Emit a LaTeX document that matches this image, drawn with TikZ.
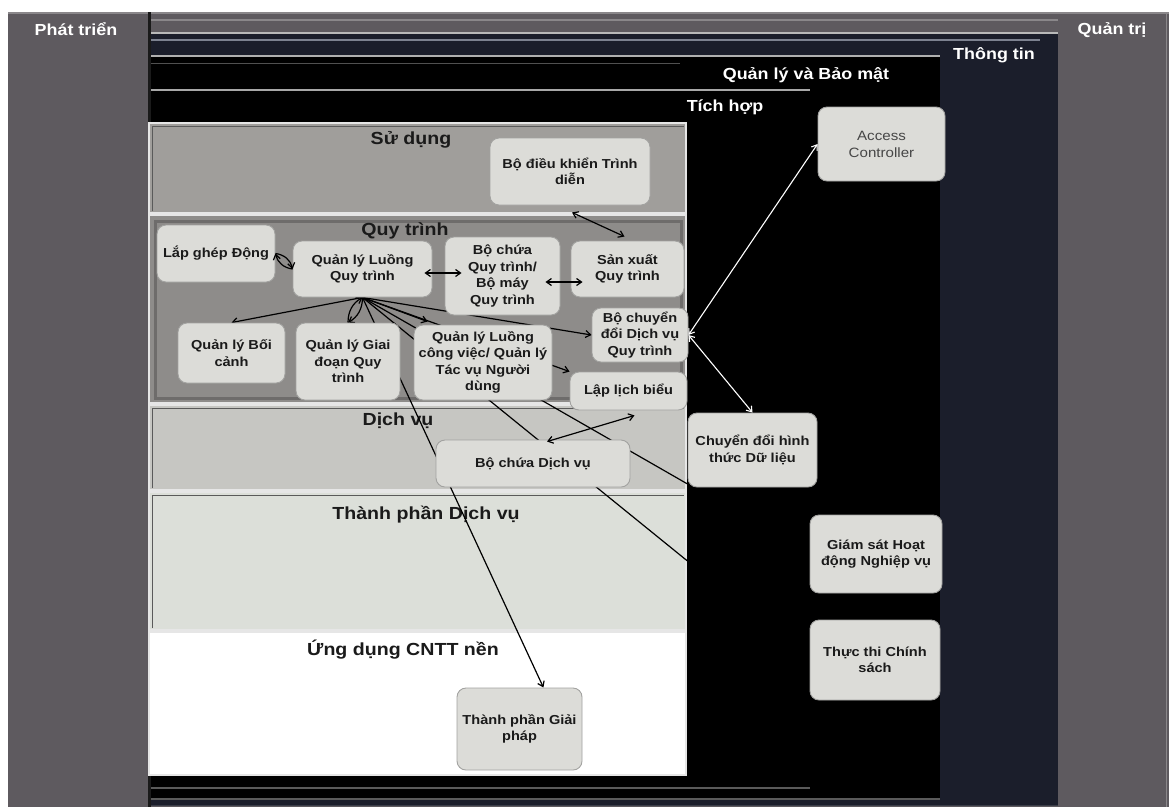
\documentclass[tikz,border=0pt]{standalone}
\usepackage{fontspec}
\setmainfont{Liberation Sans}[FakeStretch=1.12]
\usetikzlibrary{arrows.meta,calc}
\pgfdeclarelayer{bg}
\pgfdeclarelayer{links}
\pgfsetlayers{bg,links,main}

\definecolor{panelgray}{HTML}{5E5A5F}
\definecolor{panelhi}{HTML}{8A878A}
\definecolor{navy}{HTML}{1B1E2B}
\definecolor{usebg}{HTML}{A09E9B}
\definecolor{procbg}{HTML}{8E8C8A}
\definecolor{procframe}{HTML}{6E6C6B}
\definecolor{svcbg}{HTML}{C6C6C2}
\definecolor{compbg}{HTML}{DCDFD9}
\definecolor{boxfill}{HTML}{DCDCD8}
\definecolor{boxline}{HTML}{A2A2A0}
\definecolor{edgelight}{HTML}{E6E6E6}
\definecolor{edgedark}{HTML}{5A5A5A}
\definecolor{textdark}{HTML}{1A1A1A}

\newcommand\boxfont{\fontsize{13}{16.5}\selectfont\bfseries}
\newcommand\bandfont{\fontsize{17.5}{20}\selectfont\bfseries}
\newcommand\layerfont{\fontsize{16}{18}\selectfont\bfseries}

\tikzset{
  comp/.style={draw=boxline, fill=boxfill, rounded corners=9pt, line width=0.9pt,
    align=center, inner sep=1pt, font=\boxfont, text=textdark},
  layerlabel/.style={text=white, font=\layerfont, inner sep=0pt},
  bandlabel/.style={text=textdark, font=\bandfont, inner sep=0pt},
  band/.style={draw=edgelight, line width=2.5pt},
  conn/.style={draw=black, line width=1.2pt},
  wconn/.style={draw=white, line width=1.1pt},
  arr/.style={-{Straight Barb[length=5pt,width=7pt]}},
  darr/.style={{Straight Barb[length=5pt,width=7pt]}-{Straight Barb[length=5pt,width=7pt]}},
}

\begin{document}
\begin{tikzpicture}[x=1pt,y=-1pt]
\useasboundingbox (0,0) rectangle (1169,807);

\begin{pgfonlayer}{bg}
\fill[white] (0,0) rectangle (1169,807);

% Development column
\fill[panelgray] (8,12) rectangle (148,807);
\draw[panelhi, line width=2pt] (8,13) -- (148,13);
\node[layerlabel] (dev) at (76,29) {Phát triển};

% Governance frame
\fill[panelgray] (150,12) rectangle (1169,807);
\draw[panelhi, line width=2pt] (150,13) -- (1169,13);
\draw[panelhi, line width=1.5pt] (150,20) -- (1058,20);
\draw[panelhi, line width=1pt] (1166,12) -- (1166,807);
\node[layerlabel] (gov) at (1112,30) {Quản trị};

% Information frame
\fill[navy] (150,33) rectangle (1058,805);
\draw[color={rgb,255:red,185;green,185;blue,185}, line width=1.5pt] (150,33) -- (1058,33);
\draw[color={rgb,255:red,125;green,130;blue,144}, line width=1.2pt] (150,40) -- (1040,40);
\node[layerlabel] (info) at (994,55) {Thông tin};

% Management and security frame
\fill[black] (150,56) rectangle (940,799);
\draw[color={rgb,255:red,176;green,176;blue,176}, line width=1.5pt] (150,56) -- (940,56);
\draw[color={rgb,255:red,80;green,80;blue,80}, line width=1pt] (150,63) -- (680,63);
\node[layerlabel] (sec) at (806,75) {Quản lý và Bảo mật};

% Integration frame
\fill[black] (150,90) rectangle (810,788);
\draw[color={rgb,255:red,168;green,168;blue,168}, line width=1.5pt] (150,90) -- (810,90);
\node[layerlabel] (integ) at (725,107) {Tích hợp};
\draw[edgedark, line width=1.2pt] (150,788) -- (810,788);
\draw[edgedark, line width=1.2pt] (150,799) -- (940,799);
\draw[color={rgb,255:red,58;green,61;blue,72}, line width=1pt] (150,805) -- (1058,805);

\draw[color={rgb,255:red,26;green,26;blue,26}, line width=3pt] (149,12) -- (149,807);

% Horizontal layers
\filldraw[band, fill=usebg] (149,123) rectangle (686,213);
\draw[edgedark, line width=0.8pt] (152,211) |- (684,126);
\filldraw[band, fill=procbg] (149,215) rectangle (686,403);
\draw[procframe, line width=3pt] (155,221) rectangle (681,398);
\filldraw[band, fill=svcbg] (149,405) rectangle (686,490);
\draw[edgedark, line width=0.8pt] (152,488) |- (684,408);
\filldraw[band, fill=compbg] (149,492) rectangle (686,630);
\draw[edgedark, line width=0.8pt] (152,628) |- (684,495);
\filldraw[band, fill=white] (149,632) rectangle (686,775);

\node[bandlabel] (tuse)  at (411,140) {Sử dụng};
\node[bandlabel] (tproc) at (405,231) {Quy trình};
\node[bandlabel] (tsvc)  at (398,421) {Dịch vụ};
\node[bandlabel] (tcomp) at (426,515) {Thành phần Dịch vụ};
\node[bandlabel] (tapp)  at (403,650) {Ứng dụng CNTT nền};
\end{pgfonlayer}

% Components
\node[comp, minimum width=160pt, minimum height=67pt] (pres)  at (570,171.5) {Bộ điều khiển Trình\\diễn};
\node[comp, minimum width=118pt, minimum height=57pt] (dyn)   at (216,253.5) {Lắp ghép Động};
\node[comp, minimum width=139pt, minimum height=56pt] (pflow) at (362.5,269) {Quản lý Luồng\\Quy trình};
\node[comp, minimum width=115pt, minimum height=78pt] (pcont) at (502.5,276) {Bộ chứa\\Quy trình/\\Bộ máy\\Quy trình};
\node[comp, minimum width=113pt, minimum height=56pt] (pprod) at (627.5,269) {Sản xuất\\Quy trình};
\node[comp, minimum width=107pt, minimum height=60pt] (ctx)   at (231.5,353) {Quản lý Bối\\cảnh};
\node[comp, minimum width=104pt, minimum height=77pt] (stage) at (348,361.5) {Quản lý Giai\\đoạn Quy\\trình};
\node[comp, minimum width=138pt, minimum height=75pt] (wflow) at (483,362.5) {Quản lý Luồng\\công việc/ Quản lý\\Tác vụ Người\\dùng};
\node[comp, minimum width=96pt,  minimum height=54pt] (adapt) at (640,335) {Bộ chuyển\\đổi Dịch vụ\\Quy trình};
\node[comp, minimum width=117pt, minimum height=38pt] (sched) at (628.5,391) {Lập lịch biểu};
\node[comp, minimum width=194pt, minimum height=47pt] (scont) at (533,463.5) {Bộ chứa Dịch vụ};
\node[comp, minimum width=127pt, minimum height=74pt, font=\fontsize{13.5}{17}\selectfont,
      text={rgb,255:red,70;green,70;blue,70}] (acc) at (881.5,144) {Access\\Controller};
\node[comp, minimum width=129pt, minimum height=74pt] (dxf)   at (752.5,450) {Chuyển đổi hình\\thức Dữ liệu};
\node[comp, minimum width=132pt, minimum height=78pt] (bam)   at (876,554) {Giám sát Hoạt\\động Nghiệp vụ};
\node[comp, minimum width=130pt, minimum height=80pt] (pol)   at (875,660) {Thực thi Chính\\sách};
\node[comp, minimum width=125pt, minimum height=82pt] (sol)   at (519.5,729) {Thành phần Giải\\pháp};

% Links fanning out from the process flow manager, behind the components
\begin{pgfonlayer}{links}
\draw[conn, arr] (pflow.south) -- (ctx.north);
\draw[conn, arr] (pflow.south) to[bend left=30] (stage.north);
\draw[conn, arr] (stage.north) to[bend left=30] (pflow.south);
\draw[conn, arr] (pflow.south) -- ($(wflow.north west)+(14,-3)$);
\draw[conn, arr] (pflow.south) -- (adapt.west);
\draw[conn, arr] (pflow.south) -- (sched.north west);
\draw[conn, arr] (pflow.south) -- (bam.west);
\draw[conn, arr] (pflow.south) -- (pol.west);
\draw[conn, arr] (pflow.south) -- (sol.60);
\end{pgfonlayer}

% Short links drawn over the components
\draw[conn, arr] (dyn.east) to[bend left=35] (pflow.west);
\draw[conn, arr] (pflow.west) to[bend left=35] (dyn.east);
\draw[conn, darr] ($(pflow.east)+(-8,4)$) -- ($(pcont.west)+(17,-3)$);
\draw[conn, darr] ($(pcont.east)+(-15,6)$) -- ($(pprod.west)+(12,13)$);
\draw[conn, darr] ($(pres.south)+(2,7)$) -- ($(pprod.north)+(-3,-4)$);
\draw[conn, darr] ($(sched.south)+(6,5)$) -- ($(scont.north)+(14,2)$);
\draw[wconn, darr] (adapt.east) -- (acc.west);
\draw[wconn, darr] (adapt.east) -- (dxf.north);
\end{tikzpicture}
\end{document}
